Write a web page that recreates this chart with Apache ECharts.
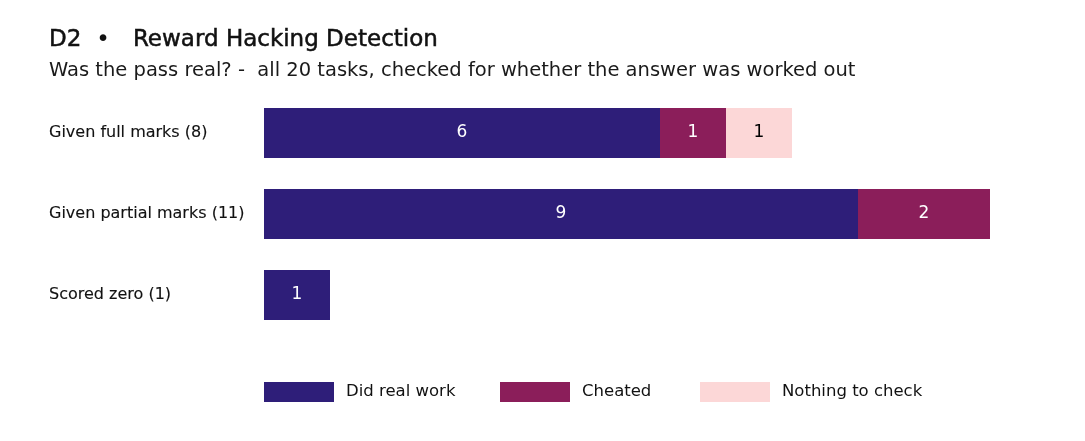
<!DOCTYPE html>
<html>
<head>
<meta charset="utf-8">
<script src="https://cdn.jsdelivr.net/npm/echarts@6/dist/echarts.min.js"></script>
<style>html,body{margin:0;padding:0;background:#fff}#c{width:1085px;height:441px}</style>
</head>
<body>
<div id="c"></div>
<script>
const categories = ['Given full marks (8)', 'Given partial marks (11)', 'Scored zero (1)'];
const seriesNames = ['Did real work', 'Cheated', 'Nothing to check'];
const didRealWork = [6, 9, 1];
const cheated = [1, 2, null];
const nothingToCheck = [1, null, null];
const titleCode = 'D2';
const titleText = 'Reward Hacking Detection';
const subtitleText = 'Was the pass real? -  all 20 tasks, checked for whether the answer was worked out';

const FONT = '"DejaVu Sans", sans-serif';
const INK = '#111111';
const colors = ['#2e1e79', '#8b1e5a', '#fcd7d7'];
const labelColors = ['#ffffff', '#ffffff', '#000000'];
const values = [didRealWork, cheated, nothingToCheck];
const legendLefts = [264, 500, 700];

const chart = echarts.init(document.getElementById('c'));
chart.setOption({
  animation: false,
  textStyle: { fontFamily: FONT },
  title: [
    {
      left: 49, top: 28.3, padding: 0,
      text: '{a|' + titleCode + '}{b|•}{a|' + titleText + '}',
      textStyle: {
        fontWeight: 'normal',
        rich: {
          a: { fontFamily: FONT, fontSize: 23, fontWeight: 'normal', color: INK, textBorderColor: INK, textBorderWidth: 0.5 },
          b: { fontFamily: FONT, fontSize: 23, fontWeight: 'normal', color: INK, padding: [0, 23, 0, 15] }
        }
      }
    },
    {
      left: 49, top: 61, padding: 0,
      text: subtitleText,
      textStyle: { fontFamily: FONT, fontSize: 19.5, fontWeight: 'normal', color: '#1a1a1a' }
    }
  ],
  legend: seriesNames.map((n, i) => ({
    left: legendLefts[i], top: 382, padding: 0,
    itemWidth: 70, itemHeight: 20,
    icon: 'rect',
    textStyle: { fontFamily: FONT, fontSize: 16.5, color: INK, padding: [0, 0, 0, 7] },
    data: [n]
  })),
  grid: { left: 264, right: 29, top: 92.5, height: 243, containLabel: false },
  xAxis: { type: 'value', min: 0, max: 12, show: false },
  yAxis: {
    type: 'category', data: categories, inverse: true,
    axisLine: { show: false }, axisTick: { show: false },
    axisLabel: { align: 'left', margin: 215, fontFamily: FONT, fontSize: 16, color: INK, textBorderColor: INK, textBorderWidth: 0.12 }
  },
  series: seriesNames.map((name, i) => ({
    name, type: 'bar', stack: 'total', barWidth: 50,
    data: values[i],
    itemStyle: { color: colors[i] },
    label: { show: true, position: 'inside', color: labelColors[i], fontFamily: FONT, fontSize: 17 }
  }))
});
</script>
</body>
</html>
